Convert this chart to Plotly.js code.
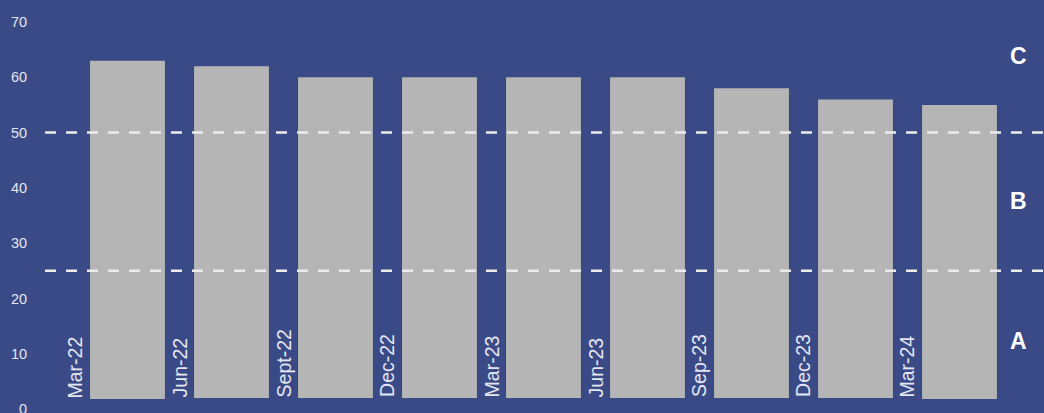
<!DOCTYPE html>
<html>
<head>
<meta charset="utf-8">
<script src="https://cdn.plot.ly/plotly-3.0.1.min.js"></script>
<style>html,body{margin:0;padding:0;background:#3a4a87;}#chart{width:1044px;height:413px;}</style>
</head>
<body>
<div id="chart"></div>
<script>
const categories = ["Mar-22","Jun-22","Sept-22","Dec-22","Mar-23","Jun-23","Sep-23","Dec-23","Mar-24"];
const barTops = [63, 62, 60, 60, 60, 60, 58, 56, 55];
const barBases = [1.8, 2, 2, 2, 2, 2, 2, 2, 1.8];
const thresholds = [50, 25];
const zoneLabels = ["C", "B", "A"];
const zoneLabelValues = [63.8, 37.6, 12.3];
const yTicks = [0, 10, 20, 30, 40, 50, 60, 70];

const bg = "#3a4a87";
const textCol = "#e4e6f0";

const trace = {
  type: "bar",
  x: categories.map((c, i) => i),
  y: barTops.map((t, i) => t - barBases[i]),
  base: barBases,
  marker: {color: "#b5b5b5", line: {width: 0}},
  hoverinfo: "skip"
};

const shapes = thresholds.map(v => ({
  type: "line", xref: "paper", x0: 0, x1: 1, yref: "y", y0: v, y1: v,
  line: {color: "#ececec", width: 2.5, dash: "11px,10px"},
  layer: "above"
}));

const annotations = [];
categories.forEach((c, i) => {
  annotations.push({
    x: i - 0.5, y: barBases[i], xref: "x", yref: "y",
    text: c, showarrow: false, textangle: -90,
    xanchor: "center", yanchor: "bottom",
    font: {family: "Liberation Sans, Arial, sans-serif", size: 19.5, color: textCol},
    borderpad: 0
  });
});
zoneLabels.forEach((t, i) => {
  annotations.push({
    x: 0.974, y: zoneLabelValues[i], xref: "paper", yref: "y",
    text: "<b>" + t + "</b>", showarrow: false,
    xanchor: "center", yanchor: "middle",
    font: {family: "Liberation Sans, Arial, sans-serif", size: 23, color: "#ffffff"}
  });
});

const layout = {
  width: 1044, height: 413,
  margin: {l: 45, r: 0, t: 22, b: 4, pad: 0},
  paper_bgcolor: bg, plot_bgcolor: bg,
  showlegend: false,
  bargap: 0.28,
  xaxis: {
    range: [-0.793, 8.8125], showticklabels: false, showgrid: false,
    zeroline: false, showline: false, ticks: "", fixedrange: true
  },
  yaxis: {
    range: [0, 70], tickvals: yTicks, ticktext: yTicks.map(String),
    showgrid: false, zeroline: false, showline: false,
    ticks: "outside", ticklen: 14, tickcolor: "rgba(0,0,0,0)",
    ticklabeloverflow: "allow",
    tickfont: {family: "Liberation Sans, Arial, sans-serif", size: 14.5, color: textCol}
  },
  shapes: shapes,
  annotations: annotations
};

Plotly.newPlot("chart", [trace], layout, {displayModeBar: false, staticPlot: true});
</script>
</body>
</html>
